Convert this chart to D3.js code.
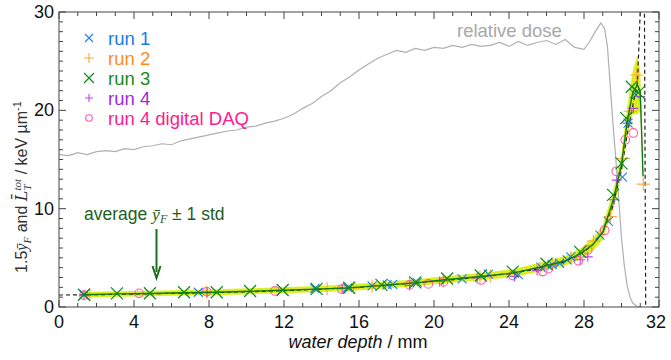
<!DOCTYPE html>
<html><head><meta charset="utf-8">
<script src="https://cdn.jsdelivr.net/npm/d3@7"></script>
<style>body{margin:0;background:#fff} svg{font-family:'Liberation Sans',Arial,sans-serif}</style>
</head><body><svg id="c" width="671" height="360"></svg>
<script>
// ---------- data ----------
const xTickValues = [0, 4, 8, 12, 16, 20, 24, 28, 32];
const yTickValues = [0, 10, 20, 30];

const doseDepth = [0,0.5,1,1.5,2,2.5,3,3.5,4,4.5,5,5.5,6,6.5,7,7.5,8,8.5,9,9.5,10,10.5,11,11.5,12,12.5,13,13.5,14,14.5,15,15.5,16,16.5,17,17.5,18,18.5,19,19.5,20,20.5,21,21.5,22,22.5,23,23.5,24,24.5,25,25.5,26,26.5,27,27.5,28,28.3,28.6,28.9,29.1,29.25,29.4,29.55,29.7,29.85,30.0,30.15,30.3,30.45,30.6,30.8,31.0];
const doseValue = [15.5,15.4,15.7,15.5,15.8,15.9,15.8,16.1,16.0,16.3,16.4,16.6,16.5,16.9,17.1,17.3,17.5,17.7,17.9,18.0,18.3,18.4,18.7,18.9,19.2,19.6,20.2,20.7,21.4,22.0,22.8,23.4,24.1,24.7,25.3,25.7,26.1,25.9,26.3,26.1,26.4,26.3,26.6,26.4,26.7,26.5,26.6,26.9,26.5,27.0,26.6,26.9,27.1,26.7,27.2,26.4,26.2,27.0,28.0,28.9,28.3,26.5,22.5,18.5,15.0,11.0,7.0,4.2,2.2,1.0,0.4,0.1,0.0];

const avgDepth = [1.33,3.1,4.85,6.7,8.4,10.2,11.9,13.7,15.5,17.2,19.0,20.7,22.5,24.2,26.0,27.0,27.8,28.5,29.0,29.55,30.0,30.3,30.6,30.85,31.0,31.15];
const avgValue = [1.25,1.33,1.38,1.45,1.5,1.6,1.7,1.82,1.95,2.2,2.45,2.8,3.1,3.45,4.2,4.7,5.4,6.4,7.6,10.8,14.5,18.8,21.8,22.6,21.9,13.3];
const avgStd   = [0.28,0.28,0.28,0.29,0.3,0.3,0.31,0.32,0.33,0.34,0.35,0.36,0.37,0.4,0.45,0.5,0.55,0.65,0.75,0.95,1.15,1.45,2.2,3.0,2.0,1.0];

const letDepth = [0,1.33,4,8,12,16,20,22,24,26,27,28,28.5,29,29.5,30,30.3,30.55,30.85,31.04,31.22,31.29];
const letValue = [1.22,1.23,1.32,1.45,1.65,2.0,2.6,2.95,3.4,4.0,4.6,5.6,6.4,7.6,10.0,14.0,17.5,20.0,22.8,32,32,0];

const run1Depth = [1.33,7.43,13.65,15.4,16.7,17.5,17.8,19.1,21.5,22.9,24.5,25.7,26.3,26.7,27.1,27.3,28.85,29.3,30.05,30.35,30.7];
const run1Value = [1.25,1.5,1.88,1.97,2.15,2.25,2.3,2.5,2.85,3.35,3.3,4.05,4.3,4.45,4.8,5.1,7.3,8.7,13.2,18.7,21.7];

const run2Depth = [1.65,7.88,14.3,15.7,16.7,18.7,20.5,22.45,23.0,25.65,26.3,27.3,28.5,29.4,30.1,30.45,30.8,31.16];
const run2Value = [1.25,1.5,1.85,1.95,2.1,2.4,2.65,3.05,3.15,3.95,4.3,5.0,6.7,9.2,15.1,19.9,23.6,12.5];

const run3Depth = [1.33,3.09,4.85,6.67,8.41,10.19,11.93,13.74,15.48,17.2,19.0,20.7,22.5,24.2,26.0,27.8,29.55,30.0,30.25,30.55,30.9];
const run3Value = [1.25,1.38,1.4,1.5,1.5,1.63,1.73,1.85,1.96,2.25,2.5,2.9,3.2,3.6,4.4,5.6,11.4,14.6,19.2,22.4,21.8];

const run4Depth = [1.33,7.9,15.1,18.7,20.3,22.3,24.3,25.5,27.8,28.2,29.6,29.75,30.33,30.63,31.0];
const run4Value = [1.2,1.5,1.85,2.2,2.6,2.95,3.1,3.7,4.8,5.1,10.9,12.9,18.7,20.2,21.4];

const daqDepth = [1.33,4.27,7.88,11.52,15.08,18.7,19.7,20.5,22.5,24.2,25.8,26.1,27.7,28.2,29.1,29.72,30.2,30.63];
const daqValue = [1.2,1.39,1.55,1.63,1.83,2.25,2.35,2.55,2.75,3.2,3.6,3.9,4.7,5.8,7.8,13.8,17.0,17.7];

const legendLabels = ["run 1","run 2","run 3","run 4","run 4 digital DAQ"];

// ---------- setup ----------
const svg = d3.select("#c");
const L = 59, R = 659, T = 12, B = 307;
const x = d3.scaleLinear().domain([0,32]).range([L,R]);
const y = d3.scaleLinear().domain([0,30]).range([B,T]);

svg.append("defs").append("clipPath").attr("id","clip")
  .append("rect").attr("x",L).attr("y",T).attr("width",R-L).attr("height",B-T);
const plot = svg.append("g").attr("clip-path","url(#clip)");

const zip = (a,b) => a.map((d,i)=>[d,b[i]]);

// yellow band
const band = avgDepth.map((d,i)=>({x:d, lo:avgValue[i]-avgStd[i], hi:avgValue[i]+avgStd[i]}));
plot.append("path").datum(band)
  .attr("d", d3.area().x(d=>x(d.x)).y0(d=>y(d.lo)).y1(d=>y(d.hi)))
  .attr("fill","#dcee1e");

// relative dose
plot.append("path").datum(zip(doseDepth,doseValue))
  .attr("d", d3.line().x(d=>x(d[0])).y(d=>y(d[1])))
  .attr("fill","none").attr("stroke","#b0b0b0").attr("stroke-width",1.2);

// black dashed LET
plot.append("path").datum(zip(letDepth,letValue))
  .attr("d", d3.line().x(d=>x(d[0])).y(d=>y(d[1])))
  .attr("fill","none").attr("stroke","#222").attr("stroke-width",1.2).attr("stroke-dasharray","4,3");

// marker helpers
function xMark(g, cx, cy, s, col, w){
  g.append("path").attr("d",`M${cx-s},${cy-s}L${cx+s},${cy+s}M${cx-s},${cy+s}L${cx+s},${cy-s}`)
   .attr("stroke",col).attr("stroke-width",w).attr("fill","none");
}
function pMark(g, cx, cy, s, col, w){
  g.append("path").attr("d",`M${cx-s},${cy}L${cx+s},${cy}M${cx},${cy-s}L${cx},${cy+s}`)
   .attr("stroke",col).attr("stroke-width",w).attr("fill","none");
}
function oMark(g, cx, cy, r, col, w){
  g.append("circle").attr("cx",cx).attr("cy",cy).attr("r",r)
   .attr("stroke",col).attr("stroke-width",w).attr("fill","none");
}

const C1="#1f80f0", C2="#ffa640", C3="#0a8a1e", C4="#b848e0", C5="#ff5aa8";

const mk = plot.append("g");
run2Depth.forEach((d,i)=>pMark(mk, x(d), y(run2Value[i]), 6.5, C2, 1.1));
run4Depth.forEach((d,i)=>pMark(mk, x(d), y(run4Value[i]), 5, C4, 1.1));
daqDepth.forEach((d,i)=>oMark(mk, x(d), y(daqValue[i]), 4.3, C5, 1.1));
run1Depth.forEach((d,i)=>xMark(mk, x(d), y(run1Value[i]), 4.5, C1, 1.1));
// average line
plot.append("path").datum(zip(avgDepth,avgValue))
  .attr("d", d3.line().x(d=>x(d[0])).y(d=>y(d[1])))
  .attr("fill","none").attr("stroke","#107a10").attr("stroke-width",1.4);
const mk3 = plot.append("g");
run3Depth.forEach((d,i)=>xMark(mk3, x(d), y(run3Value[i]), 6, C3, 1.2));

// ---------- axes / frame ----------
const ax = svg.append("g").attr("stroke","#444").attr("stroke-width",1);
ax.append("rect").attr("x",L).attr("y",T).attr("width",R-L).attr("height",B-T).attr("fill","none");
d3.range(0,33,1).forEach(v=>{
  const len = v%4===0 ? 7 : 4;
  ax.append("line").attr("x1",x(v)).attr("x2",x(v)).attr("y1",B).attr("y2",B-len);
  ax.append("line").attr("x1",x(v)).attr("x2",x(v)).attr("y1",T).attr("y2",T+len);
});
d3.range(0,31,1).forEach(v=>{
  const len = v%10===0 ? 7 : 4;
  ax.append("line").attr("y1",y(v)).attr("y2",y(v)).attr("x1",L).attr("x2",L+len);
  ax.append("line").attr("y1",y(v)).attr("y2",y(v)).attr("x1",R).attr("x2",R-len);
});
svg.append("g").selectAll("text").data(xTickValues).join("text")
  .attr("x",d=> d===32 ? x(d)-3 : x(d)).attr("y",328).attr("text-anchor","middle")
  .attr("font-size",18).attr("fill","#111").text(d=>d);
svg.append("g").selectAll("text").data(yTickValues).join("text")
  .attr("x",54).attr("y",d=>y(d)+6).attr("text-anchor","end")
  .attr("font-size",18).attr("fill","#111").text(d=>d);

// x label
const xl = svg.append("text").attr("x",358).attr("y",348).attr("text-anchor","middle")
  .attr("font-size",18).attr("fill","#111");
xl.append("tspan").attr("font-style","italic").text("water depth");
xl.append("tspan").text(" / mm");

// y label
const yl = svg.append("text").attr("transform","translate(27,187) rotate(-90)")
  .attr("text-anchor","middle").attr("font-size",16).attr("fill","#333");
yl.append("tspan").text("1.5");
yl.append("tspan").attr("font-family","'Liberation Serif',serif").attr("font-style","italic").text("ȳ");
yl.append("tspan").attr("font-family","'Liberation Serif',serif").attr("font-style","italic").attr("font-size",11).attr("dy",4).text("F");
yl.append("tspan").attr("dy",-4).text(" and ");
yl.append("tspan").attr("font-family","'DejaVu Serif',serif").attr("font-style","italic").text("L\u0304");
yl.append("tspan").attr("font-family","'Liberation Serif',serif").attr("font-style","italic").attr("font-size",11).attr("dy",4).text("T");
yl.append("tspan").attr("font-family","'Liberation Serif',serif").attr("font-style","italic").attr("font-size",11).attr("dy",-10).attr("dx",-6).text("tot");
yl.append("tspan").attr("dy",6).text("  / keV µm");
yl.append("tspan").attr("font-size",11).attr("dy",-6).text("-1");

// relative dose label
svg.append("text").attr("x",457).attr("y",37).attr("font-size",18.5).attr("fill","#a8a8a8").text("relative dose");

// legend
const lg = svg.append("g");
const tcols = ["#1a78f0","#ff8c1a","#1a8a1a","#a02ad8","#ff1a90"];
legendLabels.forEach((t,i)=>{
  const yy = 38 + i*20;
  if(i===0) xMark(lg, 89, yy, 4, C1, 1.1);
  if(i===1) pMark(lg, 89, yy, 5, C2, 1.1);
  if(i===2) xMark(lg, 89, yy, 5, C3, 1.2);
  if(i===3) pMark(lg, 89, yy, 4, C4, 1.1);
  if(i===4) oMark(lg, 89, yy, 3.3, C5, 1.1);
  lg.append("text").attr("x",108).attr("y",yy+6.5).attr("font-size",18.5).attr("fill",tcols[i]).text(t);
});

// annotation
const an = svg.append("text").attr("x",84).attr("y",220).attr("font-size",17.5).attr("fill","#1e5e1e");
an.append("tspan").text("average ");
an.append("tspan").attr("font-family","'Liberation Serif',serif").attr("font-style","italic").text("ȳ");
an.append("tspan").attr("font-family","'Liberation Serif',serif").attr("font-style","italic").attr("font-size",12).attr("dy",3).text("F");
an.append("tspan").attr("dy",-3).text("  ± 1 std");
const axp = x(5.2);
svg.append("line").attr("x1",axp).attr("x2",axp).attr("y1",229).attr("y2",272)
  .attr("stroke","#1e6e1e").attr("stroke-width",2);
svg.append("path").attr("d",`M${axp-4},${266}L${axp},${278}L${axp+4},${266}`)
  .attr("fill","none").attr("stroke","#1e6e1e").attr("stroke-width",2);
</script></body></html>
